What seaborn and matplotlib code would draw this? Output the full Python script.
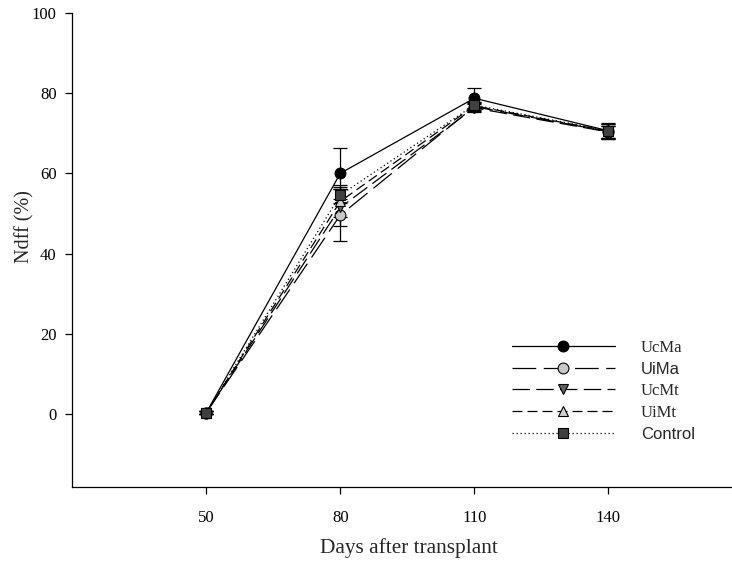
import matplotlib
matplotlib.use("Agg")
import matplotlib.pyplot as plt
import seaborn as sns
import pandas as pd

days = [50, 80, 110, 140]
series = ["UcMa", "UiMa", "UcMt", "UiMt", "Control"]
ucma = [0.4, 60.0, 78.7, 70.6]
uima = [0.4, 49.6, 76.6, 70.4]
ucmt = [0.4, 51.5, 76.3, 70.3]
uimt = [0.4, 53.0, 76.8, 70.5]
control = [0.4, 54.6, 77.0, 70.6]
ucma_err = [0.3, 6.3, 2.5, 1.8]
uima_err = [0.3, 6.5, 1.0, 1.5]
ucmt_err = [0.3, 4.6, 1.0, 1.6]
uimt_err = [0.3, 4.0, 1.0, 1.9]
control_err = [0.3, 2.0, 0.8, 2.0]
xticks = [50, 80, 110, 140]
yticks = [0, 20, 40, 60, 80, 100]

values = {"UcMa": ucma, "UiMa": uima, "UcMt": ucmt, "UiMt": uimt, "Control": control}
errors = {"UcMa": ucma_err, "UiMa": uima_err, "UcMt": ucmt_err, "UiMt": uimt_err, "Control": control_err}

styles = {
    "UcMa": dict(marker="o", mfc="black", ls="-"),
    "UiMa": dict(marker="o", mfc="#c8c8c8", ls=(0, (19, 6))),
    "UcMt": dict(marker="v", mfc="#606060", ls=(0, (14, 5))),
    "UiMt": dict(marker="^", mfc="#d0d0d0", ls=(0, (8, 4))),
    "Control": dict(marker="s", mfc="#404040", ls=(0, (1, 2.2))),
}

sns.set_style("ticks")
plt.rcParams["font.family"] = ["Liberation Serif", "DejaVu Serif"]

fig = plt.figure(figsize=(7.32, 5.63), dpi=100)
W, H = 732, 563
left, right, top, bottom = 72.3, 742.3, 12.7, 487.3
ax = fig.add_axes([left / W, 1 - bottom / H, (right - left) / W, (bottom - top) / H])

for name in series:
    df = pd.DataFrame({"day": days, "val": values[name]})
    st = styles[name]
    ax.errorbar(days, values[name], yerr=errors[name], fmt="none", ecolor="black",
                elinewidth=0.9, capsize=5, capthick=0.9, zorder=2)
    sns.lineplot(data=df, x="day", y="val", ax=ax, color="black", linewidth=0.9,
                 linestyle=st["ls"], marker=st["marker"], markersize=7.8,
                 markerfacecolor=st["mfc"], markeredgecolor="black", markeredgewidth=0.8,
                 label=name, zorder=3)

ax.set_xlim(20, 170)
ax.set_ylim(-18.2, 100)
ax.set_xticks(xticks)
ax.set_yticks(yticks)
ax.tick_params(axis="both", direction="out", length=5.3, width=0.9, colors="black",
               labelsize=12)
ax.tick_params(axis="x", pad=11)
ax.tick_params(axis="y", pad=6)
for s in ["top", "right"]:
    ax.spines[s].set_visible(False)
for s in ["left", "bottom"]:
    ax.spines[s].set_linewidth(0.9)
    ax.spines[s].set_color("black")

ax.set_xlabel("Days after transplant", fontsize=15.3)
ax.set_ylabel("Ndff (%)", fontsize=14.5)
ax.xaxis.set_label_coords(0.502, -0.108)
ax.yaxis.set_label_coords(-0.056, 0.55)

leg = ax.legend(loc="upper left",
                bbox_to_anchor=((511.7 - left) / (right - left), (bottom - 340) / (bottom - top)),
                frameon=False, fontsize=12, handlelength=6.2, handletextpad=1.55,
                labelspacing=0.36, borderaxespad=0, borderpad=0)
for t in leg.get_texts():
    if t.get_text() in ("UiMa", "Control"):
        t.set_family(["Liberation Sans", "DejaVu Sans"])

fig.savefig("out.png", dpi=100)
